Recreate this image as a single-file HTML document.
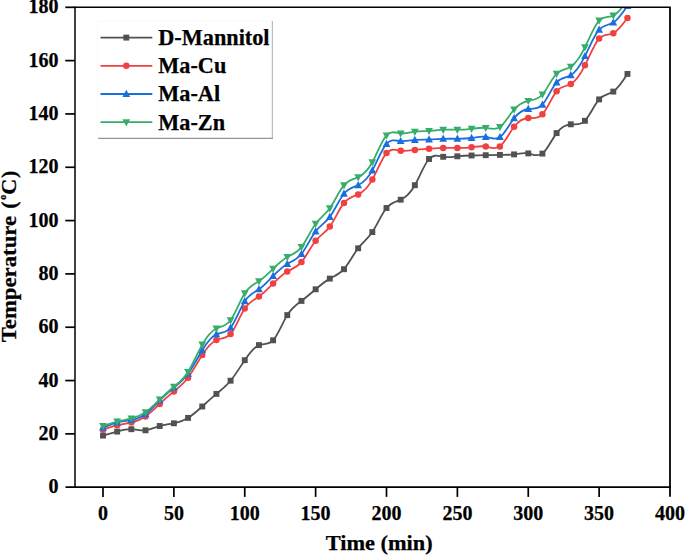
<!DOCTYPE html><html><head><meta charset="utf-8"><style>html,body{margin:0;padding:0;background:#fff}svg{display:block}text{font-family:"Liberation Serif",serif;font-weight:bold;fill:#000;stroke:#000;stroke-width:0.25px}</style></head><body>
<svg width="685" height="555" viewBox="0 0 685 555">
<rect width="685" height="555" fill="#fff"/>
<defs><clipPath id="c"><rect x="75.0" y="7.3" width="595.0" height="479.9"/></clipPath></defs>
<g clip-path="url(#c)">
<path d="M103.00,435.60C107.72,434.25 112.45,432.89 117.17,431.60C121.90,430.31 126.62,429.08 131.35,429.20C136.07,429.32 140.80,430.78 145.53,430.30C150.25,429.82 154.97,427.39 159.70,426.00C164.42,424.61 169.15,424.26 173.88,423.30C178.60,422.34 183.33,420.79 188.05,417.90C192.78,415.01 197.50,410.79 202.23,406.50C206.95,402.21 211.68,397.86 216.40,393.90C221.12,389.94 225.85,386.39 230.57,380.70C235.30,375.01 240.03,367.19 244.75,360.20C249.47,353.21 254.20,347.06 258.93,345.10C263.65,343.14 268.38,345.39 273.10,340.30C277.83,335.21 282.55,322.80 287.27,315.10C292.00,307.40 296.73,304.42 301.45,300.90C306.18,297.38 310.90,293.33 315.62,289.30C320.35,285.27 325.07,281.28 329.80,278.60C334.53,275.92 339.25,274.57 343.98,269.20C348.70,263.83 353.42,254.46 358.15,248.30C362.88,242.14 367.60,239.19 372.32,232.10C377.05,225.01 381.77,213.79 386.50,208.00C391.23,202.21 395.95,201.87 400.68,199.70C405.40,197.53 410.12,193.53 414.85,185.20C419.58,176.87 424.30,164.20 429.03,159.00C433.75,153.80 438.48,156.05 443.20,156.80C447.93,157.55 452.65,156.78 457.38,156.30C462.10,155.82 466.82,155.63 471.55,155.50C476.28,155.37 481.00,155.31 485.73,155.20C490.45,155.09 495.18,154.93 499.90,154.90C504.63,154.87 509.35,154.99 514.08,154.40C518.80,153.81 523.52,152.53 528.25,153.40C532.98,154.27 537.70,157.31 542.42,153.60C547.15,149.89 551.88,139.43 556.60,133.10C561.33,126.77 566.05,124.59 570.78,124.30C575.50,124.01 580.23,125.63 584.95,120.80C589.68,115.97 594.40,104.68 599.12,99.40C603.85,94.12 608.57,94.85 613.30,91.60C618.02,88.35 622.75,81.13 627.48,73.90" fill="none" stroke="#515151" stroke-width="1.8" stroke-linejoin="round"/>
<rect x="100.05" y="432.65" width="5.9" height="5.9" fill="#515151"/><rect x="114.22" y="428.65" width="5.9" height="5.9" fill="#515151"/><rect x="128.40" y="426.25" width="5.9" height="5.9" fill="#515151"/><rect x="142.58" y="427.35" width="5.9" height="5.9" fill="#515151"/><rect x="156.75" y="423.05" width="5.9" height="5.9" fill="#515151"/><rect x="170.93" y="420.35" width="5.9" height="5.9" fill="#515151"/><rect x="185.10" y="414.95" width="5.9" height="5.9" fill="#515151"/><rect x="199.28" y="403.55" width="5.9" height="5.9" fill="#515151"/><rect x="213.45" y="390.95" width="5.9" height="5.9" fill="#515151"/><rect x="227.62" y="377.75" width="5.9" height="5.9" fill="#515151"/><rect x="241.80" y="357.25" width="5.9" height="5.9" fill="#515151"/><rect x="255.98" y="342.15" width="5.9" height="5.9" fill="#515151"/><rect x="270.15" y="337.35" width="5.9" height="5.9" fill="#515151"/><rect x="284.32" y="312.15" width="5.9" height="5.9" fill="#515151"/><rect x="298.50" y="297.95" width="5.9" height="5.9" fill="#515151"/><rect x="312.68" y="286.35" width="5.9" height="5.9" fill="#515151"/><rect x="326.85" y="275.65" width="5.9" height="5.9" fill="#515151"/><rect x="341.03" y="266.25" width="5.9" height="5.9" fill="#515151"/><rect x="355.20" y="245.35" width="5.9" height="5.9" fill="#515151"/><rect x="369.38" y="229.15" width="5.9" height="5.9" fill="#515151"/><rect x="383.55" y="205.05" width="5.9" height="5.9" fill="#515151"/><rect x="397.73" y="196.75" width="5.9" height="5.9" fill="#515151"/><rect x="411.90" y="182.25" width="5.9" height="5.9" fill="#515151"/><rect x="426.08" y="156.05" width="5.9" height="5.9" fill="#515151"/><rect x="440.25" y="153.85" width="5.9" height="5.9" fill="#515151"/><rect x="454.43" y="153.35" width="5.9" height="5.9" fill="#515151"/><rect x="468.60" y="152.55" width="5.9" height="5.9" fill="#515151"/><rect x="482.78" y="152.25" width="5.9" height="5.9" fill="#515151"/><rect x="496.95" y="151.95" width="5.9" height="5.9" fill="#515151"/><rect x="511.13" y="151.45" width="5.9" height="5.9" fill="#515151"/><rect x="525.30" y="150.45" width="5.9" height="5.9" fill="#515151"/><rect x="539.47" y="150.65" width="5.9" height="5.9" fill="#515151"/><rect x="553.65" y="130.15" width="5.9" height="5.9" fill="#515151"/><rect x="567.83" y="121.35" width="5.9" height="5.9" fill="#515151"/><rect x="582.00" y="117.85" width="5.9" height="5.9" fill="#515151"/><rect x="596.17" y="96.45" width="5.9" height="5.9" fill="#515151"/><rect x="610.35" y="88.65" width="5.9" height="5.9" fill="#515151"/><rect x="624.52" y="70.95" width="5.9" height="5.9" fill="#515151"/>
<path d="M103.00,429.80C107.72,428.06 112.45,426.32 117.17,425.20C121.90,424.08 126.62,423.58 131.35,422.50C136.07,421.42 140.80,419.76 145.53,416.50C150.25,413.24 154.97,408.40 159.70,403.90C164.42,399.40 169.15,395.26 173.88,391.40C178.60,387.54 183.33,383.98 188.05,377.70C192.78,371.42 197.50,362.44 202.23,355.10C206.95,347.76 211.68,342.08 216.40,340.00C221.12,337.92 225.85,339.45 230.57,333.90C235.30,328.35 240.03,315.72 244.75,308.60C249.47,301.48 254.20,299.88 258.93,296.60C263.65,293.32 268.38,288.35 273.10,283.60C277.83,278.85 282.55,274.30 287.27,271.50C292.00,268.70 296.73,267.63 301.45,262.10C306.18,256.57 310.90,246.56 315.62,240.70C320.35,234.84 325.07,233.12 329.80,226.60C334.53,220.08 339.25,208.76 343.98,202.90C348.70,197.04 353.42,196.65 358.15,194.40C362.88,192.15 367.60,188.04 372.32,179.60C377.05,171.16 381.77,158.38 386.50,153.10C391.23,147.82 395.95,150.03 400.68,150.70C405.40,151.37 410.12,150.49 414.85,149.90C419.58,149.31 424.30,149.02 429.03,148.70C433.75,148.38 438.48,148.02 443.20,147.90C447.93,147.78 452.65,147.88 457.38,147.90C462.10,147.92 466.82,147.86 471.55,147.30C476.28,146.74 481.00,145.69 485.73,146.50C490.45,147.31 495.18,150.00 499.90,146.40C504.63,142.80 509.35,132.93 514.08,126.80C518.80,120.67 523.52,118.29 528.25,118.00C532.98,117.71 537.70,119.51 542.42,114.30C547.15,109.09 551.88,96.88 556.60,91.30C561.33,85.72 566.05,86.76 570.78,84.00C575.50,81.24 580.23,74.68 584.95,65.30C589.68,55.92 594.40,43.72 599.12,38.60C603.85,33.48 608.57,35.45 613.30,33.20C618.02,30.95 622.75,24.47 627.48,18.00" fill="none" stroke="#F14040" stroke-width="1.8" stroke-linejoin="round"/>
<circle cx="103.00" cy="429.80" r="3.25" fill="#F14040"/><circle cx="117.17" cy="425.20" r="3.25" fill="#F14040"/><circle cx="131.35" cy="422.50" r="3.25" fill="#F14040"/><circle cx="145.53" cy="416.50" r="3.25" fill="#F14040"/><circle cx="159.70" cy="403.90" r="3.25" fill="#F14040"/><circle cx="173.88" cy="391.40" r="3.25" fill="#F14040"/><circle cx="188.05" cy="377.70" r="3.25" fill="#F14040"/><circle cx="202.23" cy="355.10" r="3.25" fill="#F14040"/><circle cx="216.40" cy="340.00" r="3.25" fill="#F14040"/><circle cx="230.57" cy="333.90" r="3.25" fill="#F14040"/><circle cx="244.75" cy="308.60" r="3.25" fill="#F14040"/><circle cx="258.93" cy="296.60" r="3.25" fill="#F14040"/><circle cx="273.10" cy="283.60" r="3.25" fill="#F14040"/><circle cx="287.27" cy="271.50" r="3.25" fill="#F14040"/><circle cx="301.45" cy="262.10" r="3.25" fill="#F14040"/><circle cx="315.62" cy="240.70" r="3.25" fill="#F14040"/><circle cx="329.80" cy="226.60" r="3.25" fill="#F14040"/><circle cx="343.98" cy="202.90" r="3.25" fill="#F14040"/><circle cx="358.15" cy="194.40" r="3.25" fill="#F14040"/><circle cx="372.32" cy="179.60" r="3.25" fill="#F14040"/><circle cx="386.50" cy="153.10" r="3.25" fill="#F14040"/><circle cx="400.68" cy="150.70" r="3.25" fill="#F14040"/><circle cx="414.85" cy="149.90" r="3.25" fill="#F14040"/><circle cx="429.03" cy="148.70" r="3.25" fill="#F14040"/><circle cx="443.20" cy="147.90" r="3.25" fill="#F14040"/><circle cx="457.38" cy="147.90" r="3.25" fill="#F14040"/><circle cx="471.55" cy="147.30" r="3.25" fill="#F14040"/><circle cx="485.73" cy="146.50" r="3.25" fill="#F14040"/><circle cx="499.90" cy="146.40" r="3.25" fill="#F14040"/><circle cx="514.08" cy="126.80" r="3.25" fill="#F14040"/><circle cx="528.25" cy="118.00" r="3.25" fill="#F14040"/><circle cx="542.42" cy="114.30" r="3.25" fill="#F14040"/><circle cx="556.60" cy="91.30" r="3.25" fill="#F14040"/><circle cx="570.78" cy="84.00" r="3.25" fill="#F14040"/><circle cx="584.95" cy="65.30" r="3.25" fill="#F14040"/><circle cx="599.12" cy="38.60" r="3.25" fill="#F14040"/><circle cx="613.30" cy="33.20" r="3.25" fill="#F14040"/><circle cx="627.48" cy="18.00" r="3.25" fill="#F14040"/>
<path d="M103.00,427.70C107.72,425.65 112.45,423.60 117.17,422.40C121.90,421.20 126.62,420.85 131.35,420.00C136.07,419.15 140.80,417.79 145.53,414.30C150.25,410.81 154.97,405.20 159.70,400.40C164.42,395.60 169.15,391.62 173.88,387.80C178.60,383.98 183.33,380.32 188.05,373.80C192.78,367.28 197.50,357.91 202.23,350.20C206.95,342.49 211.68,336.43 216.40,334.20C221.12,331.97 225.85,333.56 230.57,327.70C235.30,321.84 240.03,308.52 244.75,301.20C249.47,293.88 254.20,292.57 258.93,289.30C263.65,286.03 268.38,280.80 273.10,276.00C277.83,271.20 282.55,266.83 287.27,264.00C292.00,261.17 296.73,259.90 301.45,254.00C306.18,248.10 310.90,237.59 315.62,231.40C320.35,225.21 325.07,223.34 329.80,216.90C334.53,210.46 339.25,199.44 343.98,193.70C348.70,187.96 353.42,187.48 358.15,185.20C362.88,182.92 367.60,178.82 372.32,170.40C377.05,161.98 381.77,149.23 386.50,143.90C391.23,138.57 395.95,140.65 400.68,141.10C405.40,141.55 410.12,140.38 414.85,139.90C419.58,139.42 424.30,139.62 429.03,139.50C433.75,139.38 438.48,138.95 443.20,138.80C447.93,138.65 452.65,138.80 457.38,138.80C462.10,138.80 466.82,138.67 471.55,138.00C476.28,137.33 481.00,136.12 485.73,136.90C490.45,137.68 495.18,140.43 499.90,137.10C504.63,133.77 509.35,124.34 514.08,118.30C518.80,112.26 523.52,109.60 528.25,109.00C532.98,108.40 537.70,109.87 542.42,104.70C547.15,99.53 551.88,87.73 556.60,82.40C561.33,77.07 566.05,78.21 570.78,75.30C575.50,72.39 580.23,65.44 584.95,56.10C589.68,46.76 594.40,35.01 599.12,29.70C603.85,24.39 608.57,25.50 613.30,22.60C618.02,19.70 622.75,12.80 627.48,5.90" fill="none" stroke="#1A6FDF" stroke-width="1.8" stroke-linejoin="round"/>
<path d="M103.00,423.52L106.90,430.72L99.10,430.72Z" fill="#1A6FDF"/><path d="M117.17,418.22L121.08,425.42L113.27,425.42Z" fill="#1A6FDF"/><path d="M131.35,415.82L135.25,423.02L127.45,423.02Z" fill="#1A6FDF"/><path d="M145.53,410.12L149.43,417.32L141.62,417.32Z" fill="#1A6FDF"/><path d="M159.70,396.22L163.60,403.42L155.80,403.42Z" fill="#1A6FDF"/><path d="M173.88,383.62L177.78,390.82L169.97,390.82Z" fill="#1A6FDF"/><path d="M188.05,369.62L191.95,376.82L184.15,376.82Z" fill="#1A6FDF"/><path d="M202.23,346.02L206.13,353.22L198.33,353.22Z" fill="#1A6FDF"/><path d="M216.40,330.02L220.30,337.22L212.50,337.22Z" fill="#1A6FDF"/><path d="M230.57,323.52L234.47,330.72L226.67,330.72Z" fill="#1A6FDF"/><path d="M244.75,297.02L248.65,304.22L240.85,304.22Z" fill="#1A6FDF"/><path d="M258.93,285.12L262.82,292.32L255.03,292.32Z" fill="#1A6FDF"/><path d="M273.10,271.82L277.00,279.02L269.20,279.02Z" fill="#1A6FDF"/><path d="M287.27,259.82L291.17,267.02L283.38,267.02Z" fill="#1A6FDF"/><path d="M301.45,249.82L305.35,257.02L297.55,257.02Z" fill="#1A6FDF"/><path d="M315.62,227.22L319.52,234.42L311.73,234.42Z" fill="#1A6FDF"/><path d="M329.80,212.72L333.70,219.92L325.90,219.92Z" fill="#1A6FDF"/><path d="M343.98,189.52L347.88,196.72L340.08,196.72Z" fill="#1A6FDF"/><path d="M358.15,181.02L362.05,188.22L354.25,188.22Z" fill="#1A6FDF"/><path d="M372.32,166.22L376.22,173.42L368.43,173.42Z" fill="#1A6FDF"/><path d="M386.50,139.72L390.40,146.92L382.60,146.92Z" fill="#1A6FDF"/><path d="M400.68,136.92L404.57,144.12L396.78,144.12Z" fill="#1A6FDF"/><path d="M414.85,135.72L418.75,142.92L410.95,142.92Z" fill="#1A6FDF"/><path d="M429.03,135.32L432.93,142.52L425.13,142.52Z" fill="#1A6FDF"/><path d="M443.20,134.62L447.10,141.82L439.30,141.82Z" fill="#1A6FDF"/><path d="M457.38,134.62L461.27,141.82L453.48,141.82Z" fill="#1A6FDF"/><path d="M471.55,133.82L475.45,141.02L467.65,141.02Z" fill="#1A6FDF"/><path d="M485.73,132.72L489.62,139.92L481.83,139.92Z" fill="#1A6FDF"/><path d="M499.90,132.92L503.80,140.12L496.00,140.12Z" fill="#1A6FDF"/><path d="M514.08,114.12L517.98,121.32L510.18,121.32Z" fill="#1A6FDF"/><path d="M528.25,104.82L532.15,112.02L524.35,112.02Z" fill="#1A6FDF"/><path d="M542.42,100.52L546.32,107.72L538.52,107.72Z" fill="#1A6FDF"/><path d="M556.60,78.22L560.50,85.42L552.70,85.42Z" fill="#1A6FDF"/><path d="M570.78,71.12L574.68,78.32L566.88,78.32Z" fill="#1A6FDF"/><path d="M584.95,51.92L588.85,59.12L581.05,59.12Z" fill="#1A6FDF"/><path d="M599.12,25.52L603.02,32.72L595.23,32.72Z" fill="#1A6FDF"/><path d="M613.30,18.42L617.20,25.62L609.40,25.62Z" fill="#1A6FDF"/><path d="M627.48,1.72L631.38,8.92L623.58,8.92Z" fill="#1A6FDF"/>
<path d="M103.00,426.00C107.72,424.34 112.45,422.68 117.17,421.50C121.90,420.32 126.62,419.62 131.35,418.40C136.07,417.18 140.80,415.46 145.53,412.20C150.25,408.94 154.97,404.16 159.70,399.60C164.42,395.04 169.15,390.72 173.88,386.80C178.60,382.88 183.33,379.38 188.05,371.90C192.78,364.42 197.50,352.98 202.23,344.60C206.95,336.22 211.68,330.92 216.40,328.50C221.12,326.08 225.85,326.55 230.57,320.20C235.30,313.85 240.03,300.68 244.75,293.30C249.47,285.92 254.20,284.35 258.93,281.20C263.65,278.05 268.38,273.34 273.10,268.80C277.83,264.26 282.55,259.89 287.27,257.10C292.00,254.31 296.73,253.08 301.45,247.10C306.18,241.12 310.90,230.37 315.62,223.80C320.35,217.23 325.07,214.82 329.80,208.20C334.53,201.58 339.25,190.75 343.98,185.20C348.70,179.65 353.42,179.39 358.15,177.20C362.88,175.01 367.60,170.90 372.32,162.30C377.05,153.70 381.77,140.61 386.50,135.40C391.23,130.19 395.95,132.85 400.68,133.40C405.40,133.95 410.12,132.40 414.85,131.70C419.58,131.00 424.30,131.17 429.03,130.90C433.75,130.63 438.48,129.93 443.20,129.70C447.93,129.47 452.65,129.72 457.38,129.70C462.10,129.68 466.82,129.39 471.55,128.80C476.28,128.21 481.00,127.33 485.73,127.90C490.45,128.47 495.18,130.48 499.90,127.10C504.63,123.72 509.35,114.94 514.08,109.50C518.80,104.06 523.52,101.96 528.25,100.90C532.98,99.84 537.70,99.82 542.42,94.50C547.15,89.18 551.88,78.57 556.60,73.70C561.33,68.83 566.05,69.70 570.78,66.70C575.50,63.70 580.23,56.82 584.95,47.30C589.68,37.78 594.40,25.61 599.12,20.60C603.85,15.59 608.57,17.76 613.30,15.60C618.02,13.44 622.75,6.97 627.48,0.50" fill="none" stroke="#37AD6B" stroke-width="1.8" stroke-linejoin="round"/>
<path d="M103.00,430.18L106.90,422.98L99.10,422.98Z" fill="#37AD6B"/><path d="M117.17,425.68L121.08,418.48L113.27,418.48Z" fill="#37AD6B"/><path d="M131.35,422.58L135.25,415.38L127.45,415.38Z" fill="#37AD6B"/><path d="M145.53,416.38L149.43,409.18L141.62,409.18Z" fill="#37AD6B"/><path d="M159.70,403.78L163.60,396.58L155.80,396.58Z" fill="#37AD6B"/><path d="M173.88,390.98L177.78,383.78L169.97,383.78Z" fill="#37AD6B"/><path d="M188.05,376.08L191.95,368.88L184.15,368.88Z" fill="#37AD6B"/><path d="M202.23,348.78L206.13,341.58L198.33,341.58Z" fill="#37AD6B"/><path d="M216.40,332.68L220.30,325.48L212.50,325.48Z" fill="#37AD6B"/><path d="M230.57,324.38L234.47,317.18L226.67,317.18Z" fill="#37AD6B"/><path d="M244.75,297.48L248.65,290.28L240.85,290.28Z" fill="#37AD6B"/><path d="M258.93,285.38L262.82,278.18L255.03,278.18Z" fill="#37AD6B"/><path d="M273.10,272.98L277.00,265.78L269.20,265.78Z" fill="#37AD6B"/><path d="M287.27,261.28L291.17,254.08L283.38,254.08Z" fill="#37AD6B"/><path d="M301.45,251.28L305.35,244.08L297.55,244.08Z" fill="#37AD6B"/><path d="M315.62,227.98L319.52,220.78L311.73,220.78Z" fill="#37AD6B"/><path d="M329.80,212.38L333.70,205.18L325.90,205.18Z" fill="#37AD6B"/><path d="M343.98,189.38L347.88,182.18L340.08,182.18Z" fill="#37AD6B"/><path d="M358.15,181.38L362.05,174.18L354.25,174.18Z" fill="#37AD6B"/><path d="M372.32,166.48L376.22,159.28L368.43,159.28Z" fill="#37AD6B"/><path d="M386.50,139.58L390.40,132.38L382.60,132.38Z" fill="#37AD6B"/><path d="M400.68,137.58L404.57,130.38L396.78,130.38Z" fill="#37AD6B"/><path d="M414.85,135.88L418.75,128.68L410.95,128.68Z" fill="#37AD6B"/><path d="M429.03,135.08L432.93,127.88L425.13,127.88Z" fill="#37AD6B"/><path d="M443.20,133.88L447.10,126.68L439.30,126.68Z" fill="#37AD6B"/><path d="M457.38,133.88L461.27,126.68L453.48,126.68Z" fill="#37AD6B"/><path d="M471.55,132.98L475.45,125.78L467.65,125.78Z" fill="#37AD6B"/><path d="M485.73,132.08L489.62,124.88L481.83,124.88Z" fill="#37AD6B"/><path d="M499.90,131.28L503.80,124.08L496.00,124.08Z" fill="#37AD6B"/><path d="M514.08,113.68L517.98,106.48L510.18,106.48Z" fill="#37AD6B"/><path d="M528.25,105.08L532.15,97.88L524.35,97.88Z" fill="#37AD6B"/><path d="M542.42,98.68L546.32,91.48L538.52,91.48Z" fill="#37AD6B"/><path d="M556.60,77.88L560.50,70.68L552.70,70.68Z" fill="#37AD6B"/><path d="M570.78,70.88L574.68,63.68L566.88,63.68Z" fill="#37AD6B"/><path d="M584.95,51.48L588.85,44.28L581.05,44.28Z" fill="#37AD6B"/><path d="M599.12,24.78L603.02,17.58L595.23,17.58Z" fill="#37AD6B"/><path d="M613.30,19.78L617.20,12.58L609.40,12.58Z" fill="#37AD6B"/><path d="M627.48,4.68L631.38,-2.52L623.58,-2.52Z" fill="#37AD6B"/>
</g>
<g stroke="#000" stroke-width="1.5" fill="none" stroke-linecap="butt">
<path d="M75.0,7.3H670.75"/>
<path d="M75.0,6.55V487.2"/>
<path d="M65.5,487.2H670.9" stroke-width="1.8"/>
<path d="M670.0,7.3V496.7" stroke-width="1.8"/>
<path d="M65.3,433.88H75.0" stroke-width="1.7"/>
<path d="M65.3,380.56H75.0" stroke-width="1.7"/>
<path d="M65.3,327.23H75.0" stroke-width="1.7"/>
<path d="M65.3,273.91H75.0" stroke-width="1.7"/>
<path d="M65.3,220.59H75.0" stroke-width="1.7"/>
<path d="M65.3,167.27H75.0" stroke-width="1.7"/>
<path d="M65.3,113.94H75.0" stroke-width="1.7"/>
<path d="M65.3,60.62H75.0" stroke-width="1.7"/>
<path d="M65.3,7.30H75.0" stroke-width="1.7"/>
<path d="M103.00,487.2V496.9" stroke-width="1.7"/>
<path d="M173.88,487.2V496.9" stroke-width="1.7"/>
<path d="M244.75,487.2V496.9" stroke-width="1.7"/>
<path d="M315.62,487.2V496.9" stroke-width="1.7"/>
<path d="M386.50,487.2V496.9" stroke-width="1.7"/>
<path d="M457.38,487.2V496.9" stroke-width="1.7"/>
<path d="M528.25,487.2V496.9" stroke-width="1.7"/>
<path d="M599.12,487.2V496.9" stroke-width="1.7"/>
</g>
<text x="58.5" y="493.30" font-size="20" text-anchor="end">0</text>
<text x="58.5" y="439.98" font-size="20" text-anchor="end">20</text>
<text x="58.5" y="386.66" font-size="20" text-anchor="end">40</text>
<text x="58.5" y="333.33" font-size="20" text-anchor="end">60</text>
<text x="58.5" y="280.01" font-size="20" text-anchor="end">80</text>
<text x="58.5" y="226.69" font-size="20" text-anchor="end">100</text>
<text x="58.5" y="173.37" font-size="20" text-anchor="end">120</text>
<text x="58.5" y="120.04" font-size="20" text-anchor="end">140</text>
<text x="58.5" y="66.72" font-size="20" text-anchor="end">160</text>
<text x="58.5" y="13.40" font-size="20" text-anchor="end">180</text>
<text x="103.00" y="519.6" font-size="20" text-anchor="middle">0</text>
<text x="173.88" y="519.6" font-size="20" text-anchor="middle">50</text>
<text x="244.75" y="519.6" font-size="20" text-anchor="middle">100</text>
<text x="315.62" y="519.6" font-size="20" text-anchor="middle">150</text>
<text x="386.50" y="519.6" font-size="20" text-anchor="middle">200</text>
<text x="457.38" y="519.6" font-size="20" text-anchor="middle">250</text>
<text x="528.25" y="519.6" font-size="20" text-anchor="middle">300</text>
<text x="599.12" y="519.6" font-size="20" text-anchor="middle">350</text>
<text x="670.00" y="519.6" font-size="20" text-anchor="middle">400</text>
<text x="379.2" y="549.8" font-size="22" text-anchor="middle" textLength="107" lengthAdjust="spacingAndGlyphs">Time (min)</text>
<g transform="translate(15.9,342.3) rotate(-90)" font-size="22"><text x="0" y="0" textLength="126.4" lengthAdjust="spacingAndGlyphs">Temperature</text><text x="133.6" y="0">(</text><text x="142.6" y="-10.4" font-size="10">o</text><text x="147.6" y="0">C</text><text x="164.4" y="0">)</text></g>
<path d="M272.3,21V138.7" fill="none" stroke="#a0a0a0" stroke-width="0.9"/>
<path d="M98,138.3H272.75" fill="none" stroke="#6a6a6a" stroke-width="0.9"/>
<path d="M98,138.3V21H272.3" fill="none" stroke="#f6f6f6" stroke-width="0.7"/>
<path d="M100.5,37.6H152.3" stroke="#515151" stroke-width="1.8"/>
<rect x="123.35" y="34.65" width="5.9" height="5.9" fill="#515151"/>
<text x="158.3" y="45.00" font-size="22.25">D-Mannitol</text>
<path d="M100.5,65.8H152.3" stroke="#F14040" stroke-width="1.8"/>
<circle cx="126.30" cy="65.80" r="3.25" fill="#F14040"/>
<text x="158.3" y="73.20" font-size="22.25">Ma-Cu</text>
<path d="M100.5,94.0H152.3" stroke="#1A6FDF" stroke-width="1.8"/>
<path d="M126.30,89.82L130.20,97.02L122.40,97.02Z" fill="#1A6FDF"/>
<text x="158.3" y="101.40" font-size="22.25">Ma-Al</text>
<path d="M100.5,122.2H152.3" stroke="#37AD6B" stroke-width="1.8"/>
<path d="M126.30,126.38L130.20,119.18L122.40,119.18Z" fill="#37AD6B"/>
<text x="158.3" y="129.60" font-size="22.25">Ma-Zn</text>
</svg></body></html>
